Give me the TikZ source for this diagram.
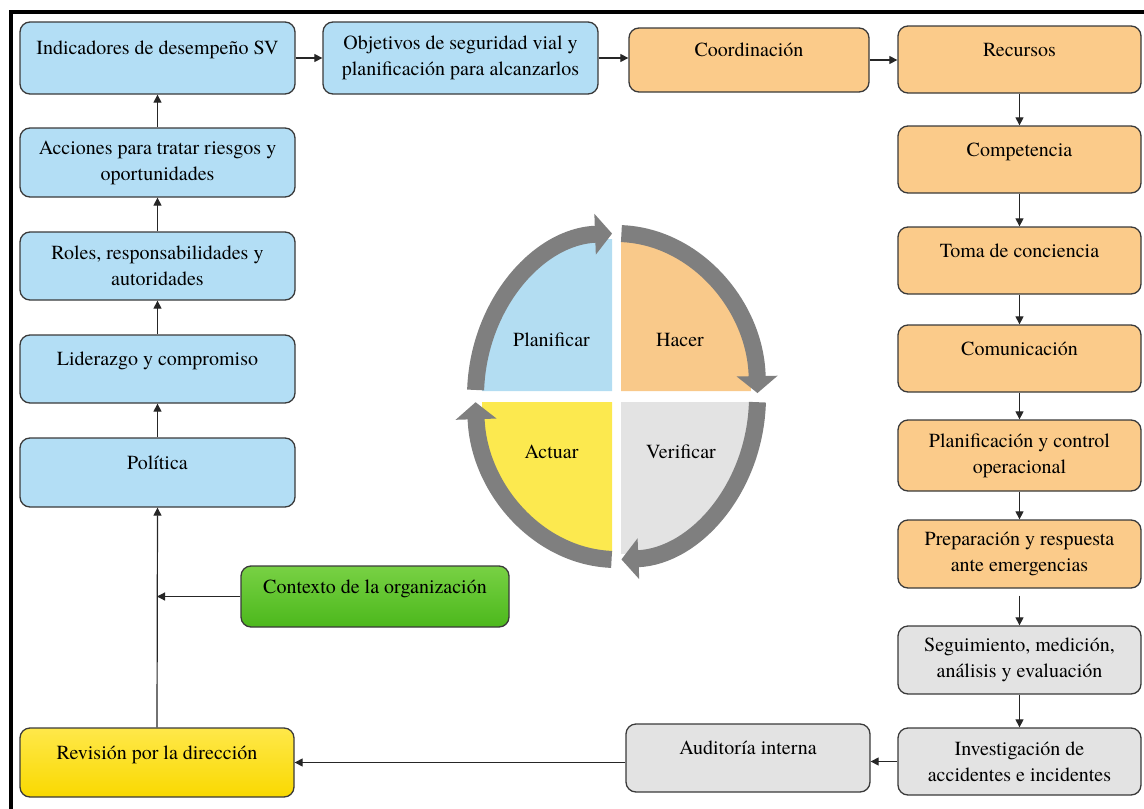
\documentclass[tikz,border=0pt]{standalone}
\usepackage{fontspec}
\newfontfamily\tnr{texgyretermes}[Extension=.otf, UprightFont=*-regular, BoldFont=*-bold, ItalicFont=*-italic, BoldItalicFont=*-bolditalic]
\usetikzlibrary{arrows.meta,calc}
\definecolor{bl}{HTML}{B3DEF5}
\definecolor{or}{HTML}{FBCB8A}
\definecolor{gr}{HTML}{E3E3E3}
\definecolor{gnT}{HTML}{78D144}
\definecolor{gnB}{HTML}{4CB81C}
\definecolor{yeT}{HTML}{FFE84A}
\definecolor{yeB}{HTML}{F9D900}
\definecolor{boxline}{HTML}{3A3A3A}
\definecolor{cycgray}{HTML}{7F7F7F}
\definecolor{qbl}{HTML}{B3DDF2}
\definecolor{qor}{HTML}{F9C98A}
\definecolor{qgr}{HTML}{E3E3E3}
\definecolor{qye}{HTML}{FCE94F}
\begin{document}
\begin{tikzpicture}[x=1pt,y=-1pt,
  box/.style={draw=boxline, line width=1.3pt, rounded corners=10pt, align=center,
    font=\tnr\fontsize{20}{26}\selectfont, inner sep=3pt},
  one/.style={text height=14pt, text depth=21pt},
  lcol/.style={box, minimum width=275pt},
  rcol/.style={box, minimum width=243pt},
  conn/.style={draw=black!85, line width=1.2pt, -{Triangle[length=8pt,width=8pt]}},
  cyc/.style={draw=cycgray, line width=17pt, -{Triangle[length=17pt,width=40pt]}},
  cyclbl/.style={font=\tnr\fontsize{20}{26}\selectfont, inner sep=0pt},
]
\useasboundingbox (0,0) rectangle (1144,809);
% frame
\draw[line width=4pt] (11,809) -- (11,12) -- (1144,12);

% left column
\node[lcol, fill=bl, minimum height=72pt, one] (ind) at (157.5,58) {Indicadores de desempeño SV};
\node[lcol, fill=bl, minimum height=69pt] (acc) at (157.5,162.5) {Acciones para tratar riesgos y\\oportunidades};
\node[lcol, fill=bl, minimum height=68pt] (rol) at (157.5,266) {Roles, responsabilidades y\\autoridades};
\node[lcol, fill=bl, minimum height=68pt, one] (lid) at (157.5,369) {Liderazgo y compromiso};
\node[lcol, fill=bl, minimum height=69pt, one] (pol) at (157.5,472.5) {Política};
\node[box, minimum width=268pt, minimum height=61pt, top color=gnT, bottom color=gnB, one] (ctx) at (375,596.5) {Contexto de la organización};
\node[box, minimum width=274pt, minimum height=69pt, top color=yeT, bottom color=yeB, one] (rev) at (157,762.5) {Revisión por la dirección};

% top row
\node[lcol, fill=bl, minimum height=72pt] (obj) at (460.5,58) {Objetivos de seguridad vial y\\planificación para alcanzarlos};
\node[box, fill=or, minimum width=240pt, minimum height=64pt, one] (coo) at (749,60) {Coordinación};
\node[rcol, fill=or, minimum height=67pt, one] (rec) at (1019.5,59.5) {Recursos};

% right column
\node[rcol, fill=or, minimum height=67pt, one] (com) at (1019.5,159.5) {Competencia};
\node[rcol, fill=or, minimum height=67pt, one] (tom) at (1019.5,260.5) {Toma de conciencia};
\node[rcol, fill=or, minimum height=67pt, one] (cmu) at (1019.5,358.5) {Comunicación};
\node[rcol, fill=or, minimum height=71pt] (pla) at (1019.5,455.5) {Planificación y control\\operacional};
\node[rcol, fill=or, minimum height=68pt] (pre) at (1019.5,554) {Preparación y respuesta\\ante emergencias};
\node[rcol, fill=gr, minimum height=68pt] (seg) at (1019.5,660) {Seguimiento, medición,\\análisis y evaluación};
\node[rcol, fill=gr, minimum height=67pt] (inv) at (1019.5,761.5) {Investigación de\\accidentes e incidentes};
\node[box, fill=gr, minimum width=244pt, minimum height=68pt, one] (aud) at (748,758) {Auditoría interna};

% connectors
\draw[conn] (ind.east) -- (obj.west);
\draw[conn] (obj.east) -- (obj.east -| coo.west);
\draw[conn] (coo.east) -- (coo.east -| rec.west);
\draw[conn] (acc.north) -- (ind.south);
\draw[conn] (rol.north) -- (acc.south);
\draw[conn] (lid.north) -- (rol.south);
\draw[conn] (pol.north) -- (lid.south);
\draw[conn] (rev.north) -- (pol.south);
\draw[conn] (ctx.west) -- (ctx.west -| rev.north);
\draw[conn] (rec.south) -- (com.north);
\draw[conn] (com.south) -- (tom.north);
\draw[conn] (tom.south) -- (cmu.north);
\draw[conn] (cmu.south) -- (pla.north);
\draw[conn] (pla.south) -- (pre.north);
\draw[conn, shorten <=7pt] (pre.south) -- (seg.north);
\draw[conn] (seg.south) -- (inv.north);
\draw[conn] (inv.west) -- (inv.west -| aud.east);
\draw[conn] (rev.east -| aud.west) -- (rev.east);

% PHVA cycle
\coordinate (C) at (616.5,396.5);
\fill[qbl] (612,391) -- ++(-130,0) arc[start angle=180, end angle=270, x radius=130, y radius=152] -- cycle;
\fill[qor] (621,391) -- ++(0,-152) arc[start angle=270, end angle=360, x radius=130, y radius=152] -- cycle;
\fill[qgr] (621,402) -- ++(130,0) arc[start angle=0, end angle=90, x radius=130, y radius=152] -- cycle;
\fill[qye] (612,402) -- ++(0,152) arc[start angle=90, end angle=180, x radius=130, y radius=152] -- cycle;

\draw[cyc] ($(C)+({141*cos(182.3)},{163*sin(182.3)})$) arc[start angle=182.3, end angle=268.2, x radius=141, y radius=163];
\draw[cyc] ($(C)+({141*cos(272)},{163*sin(272)})$) arc[start angle=272, end angle=358.8, x radius=141, y radius=163];
\draw[cyc] ($(C)+({141*cos(2)},{163*sin(2)})$) arc[start angle=2, end angle=88, x radius=141, y radius=163];
\draw[cyc] ($(C)+({141*cos(92)},{163*sin(92)})$) arc[start angle=92, end angle=178, x radius=141, y radius=163];

\node[cyclbl] (tP) at (551.5,340) {Planificar};
\node[cyclbl] (tH) at (680,340) {Hacer};
\node[cyclbl] (tA) at (551.5,452) {Actuar};
\node[cyclbl] (tV) at (681,452) {Verificar};
\end{tikzpicture}
\end{document}
